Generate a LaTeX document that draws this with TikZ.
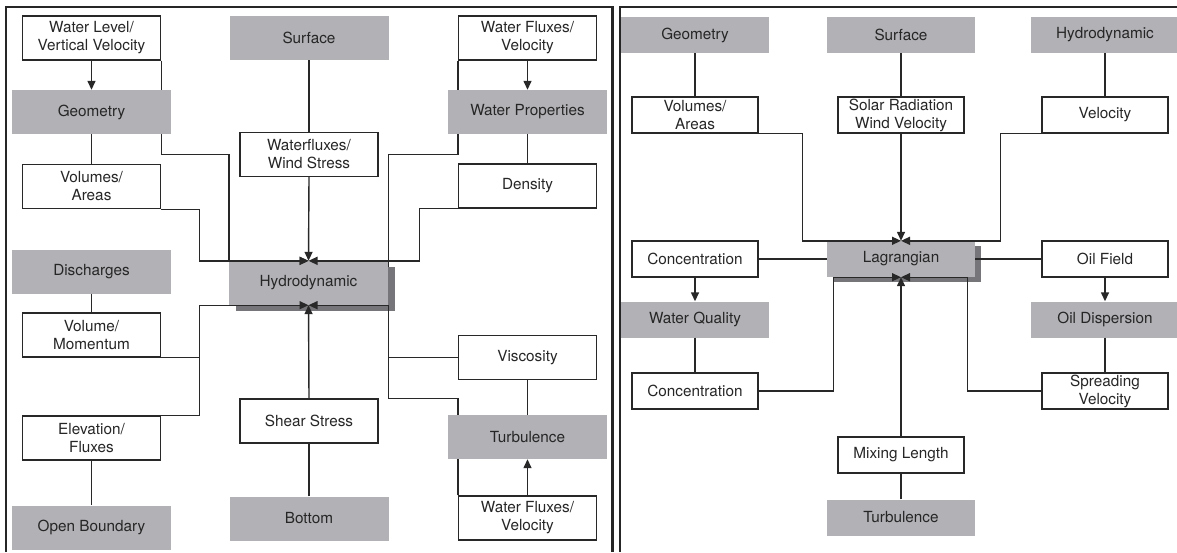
\documentclass[tikz,border=0pt]{standalone}
\usepackage{fontspec}
\setmainfont{TeX Gyre Heros}
\usetikzlibrary{arrows.meta,backgrounds,shadows}
\definecolor{boxgray}{RGB}{177,177,182}
\definecolor{shadegray}{RGB}{118,118,122}
\definecolor{linegray}{RGB}{40,40,40}
\tikzset{
  wbox/.style={draw=linegray, line width=1.4pt, fill=white, minimum width=138pt, minimum height=44pt, inner sep=0pt, align=center},
  gbox/.style={fill=boxgray, minimum width=159pt, minimum height=44pt, inner sep=0pt, align=center},
  rwbox/.style={wbox, minimum width=126pt, minimum height=36pt},
  rgbox/.style={gbox, minimum width=148pt, minimum height=36pt},
  link/.style={draw=linegray, line width=1.4pt},
  arr/.style={link, -{Triangle[length=9pt,width=8pt]}},
  frame/.style={draw=black!85, line width=2.5pt}
}
\begin{document}
\begin{tikzpicture}[x=1pt, y=-1pt, font=\fontsize{15.3pt}{18pt}\selectfont, text=black!85]
  \useasboundingbox (0,0) rectangle (1177,552);
  \draw[frame] (6,552) -- (6,7) -- (612.5,7) -- (612.5,552);
  \draw[frame] (620,552) -- (620,7) -- (1177,7);

  % left panel
  \node[wbox] (wl) at (91.5,38) {Water Level/\\Vertical Velocity};
  \node[gbox] (lsurf) at (309,38) {Surface};
  \node[wbox] (lwfv) at (527.5,38) {Water Fluxes/\\Velocity};
  \node[gbox] (lgeo) at (91.5,112) {Geometry};
  \node[gbox] (lwprop) at (527.5,112) {Water Properties};
  \node[wbox] (wfws) at (309,154.5) {Waterfluxes/\\Wind Stress};
  \node[wbox] (lvol) at (91.5,186.5) {Volumes/\\Areas};
  \node[wbox] (dens) at (527.5,186) {Density};
  \node[gbox] (disch) at (91.5,271.5) {Discharges};
  \node[gbox, drop shadow={shadow xshift=7pt, shadow yshift=-6pt, fill=shadegray, opacity=1}] (hydro) at (308.5,283) {Hydrodynamic};
  \node[wbox] (volmom) at (91.5,335) {Volume/\\Momentum};
  \node[wbox] (visc) at (527.5,357.5) {Viscosity};
  \node[wbox] (shear) at (309,421) {Shear Stress};
  \node[wbox] (elev) at (91.5,438) {Elevation/\\Fluxes};
  \node[gbox] (turb) at (527.5,437) {Turbulence};
  \node[wbox] (lwfv2) at (527.5,518) {Water Fluxes/\\Velocity};
  \node[gbox] (openb) at (91.5,527.5) {Open Boundary};
  \node[gbox] (bottom) at (309,518.5) {Bottom};

  % right panel
  \node[rgbox] (rgeo) at (695,35) {Geometry};
  \node[rgbox] (rsurf) at (901,35) {Surface};
  \node[rgbox] (rhydro) at (1105,35) {Hydrodynamic};
  \node[rwbox] (rvol) at (695,115) {Volumes/\\Areas};
  \node[rwbox] (solar) at (901,115) {Solar Radiation\\Wind Velocity};
  \node[rwbox] (rvel) at (1105,115) {Velocity};
  \node[rgbox, drop shadow={shadow xshift=6pt, shadow yshift=-5pt, fill=shadegray, opacity=1}] (lagr) at (901,259) {Lagrangian};
  \node[rwbox] (conc1) at (695,259) {Concentration};
  \node[rwbox] (oilf) at (1105,259) {Oil Field};
  \node[rgbox] (wq) at (695,319.5) {Water Quality};
  \node[rgbox] (oild) at (1105,319.5) {Oil Dispersion};
  \node[rwbox] (conc2) at (695,391) {Concentration};
  \node[rwbox] (spread) at (1105,391) {Spreading\\Velocity};
  \node[rwbox] (mix) at (901,455) {Mixing Length};
  \node[rgbox] (rturb) at (901,517.5) {Turbulence};

  \begin{scope}[on background layer]
    \draw[link] (wl.south east) -- ++(0,94) -| (hydro.north west);
    \draw[link] (lwfv.south west) -- ++(0,94) -| (hydro.south east);
    \draw[link] (lwfv2.north west) -- ++(0,-97) -| (hydro.south east);
  \end{scope}

  \draw[arr] (wl.south) -- (lgeo.north);
  \draw[link] (lgeo.south) -- (lvol.north);
  \draw[arr] (hydro.north west) -- (hydro.north);
  \draw[arr] (lvol.south east) -- ++(38.5,0) |- (hydro.north);
  \draw[link] (lsurf.south) -- (wfws.north);
  \draw[arr] (wfws.south) -- (hydro.north);
  \draw[arr] (lwfv.south) -- (lwprop.north);
  \draw[link] (lwprop.south) -- (dens.north);
  \draw[arr] (dens.south west) -- ++(-38.5,0) |- (hydro.north);
  \draw[arr] (hydro.south east) -- (hydro.south);
  \draw[link] (visc.west) -| (hydro.south east);
  \draw[link] (visc.south) -- (turb.north);
  \draw[arr] (lwfv2.north) -- (turb.south);
  \draw[link] (disch.south) -- (volmom.north);
  \draw[arr] (volmom.south east) -- ++(38,0) |- (hydro.south);
  \draw[link] (elev.north east) -- ++(38,0) |- (volmom.south east);
  \draw[link] (elev.south) -- (openb.north);
  \draw[arr] (shear.north) -- (hydro.south);
  \draw[link] (bottom.north) -- (shear.south);

  \draw[link] (rgeo.south) -- (rvol.north);
  \draw[link] (rsurf.south) -- (solar.north);
  \draw[link] (rhydro.south) -- (rvel.north);
  \draw[arr] (rvol.south east) -- ++(44,0) |- (lagr.north);
  \draw[arr] (solar.south) -- (lagr.north);
  \draw[arr] (rvel.south west) -- ++(-41,0) |- (lagr.north);
  \draw[link] (conc1.east) -- (lagr.west);
  \draw[link] (lagr.east) -- (oilf.west);
  \draw[arr] (conc1.south) -- (wq.north);
  \draw[arr] (oilf.south) -- (oild.north);
  \draw[link] (wq.south) -- (conc2.north);
  \draw[link] (oild.south) -- (spread.north);
  \draw[arr] (conc2.east) -- ++(75,0) |- (lagr.south);
  \draw[arr] (spread.west) -- ++(-74,0) |- (lagr.south);
  \draw[arr] (mix.north) -- (lagr.south);
  \draw[link] (rturb.north) -- (mix.south);
\end{tikzpicture}
\end{document}
